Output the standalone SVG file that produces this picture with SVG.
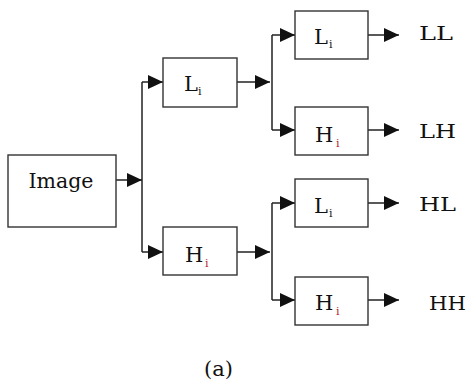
<svg xmlns="http://www.w3.org/2000/svg" width="470" height="384" viewBox="0 0 470 384">
<style>
.box{fill:#fff;stroke:#333;stroke-width:1.4}
.ln{fill:none;stroke:#222;stroke-width:1.5}
.t{font-family:"DejaVu Serif","Liberation Serif",serif;fill:#111}
.lbl{font-size:21px}
.out{font-size:19px}
.cap{font-size:21px}
.sub{font-size:11px}
.subr{font-size:11px;fill:#b02030}
</style>
<defs>
<marker id="ah" markerUnits="userSpaceOnUse" markerWidth="15" markerHeight="14" refX="15" refY="7" orient="auto">
<path d="M0,0 L15,7 L0,14 Z" fill="#111"/>
</marker>
</defs>
<rect width="470" height="384" fill="#fff"/>
<g id="connectors">
<line class="ln" x1="116" y1="180" x2="142" y2="180" marker-end="url(#ah)"/>
<line class="ln" x1="142" y1="82" x2="142" y2="252"/>
<line class="ln" x1="142" y1="82" x2="163" y2="82" marker-end="url(#ah)"/>
<line class="ln" x1="142" y1="252" x2="163" y2="252" marker-end="url(#ah)"/>
<line class="ln" x1="237" y1="82" x2="270" y2="82" marker-end="url(#ah)"/>
<line class="ln" x1="237" y1="252" x2="270" y2="252" marker-end="url(#ah)"/>
<line class="ln" x1="272" y1="35" x2="272" y2="130"/>
<line class="ln" x1="272" y1="203" x2="272" y2="300"/>
<line class="ln" x1="272" y1="35" x2="295" y2="35" marker-end="url(#ah)"/>
<line class="ln" x1="272" y1="130" x2="295" y2="130" marker-end="url(#ah)"/>
<line class="ln" x1="272" y1="203" x2="295" y2="203" marker-end="url(#ah)"/>
<line class="ln" x1="272" y1="300" x2="295" y2="300" marker-end="url(#ah)"/>
<line class="ln" x1="368" y1="35" x2="399" y2="35" marker-end="url(#ah)"/>
<line class="ln" x1="368" y1="130" x2="399" y2="130" marker-end="url(#ah)"/>
<line class="ln" x1="368" y1="203" x2="399" y2="203" marker-end="url(#ah)"/>
<line class="ln" x1="368" y1="300" x2="399" y2="300" marker-end="url(#ah)"/>
</g>
<g id="image">
<rect class="box" x="8" y="155" width="108" height="72"/>
<text class="t lbl" x="61" y="188" text-anchor="middle" textLength="65" lengthAdjust="spacingAndGlyphs">Image</text>
</g>
<g id="L1">
<rect class="box" x="163" y="58" width="74" height="49"/>
<text class="t lbl" x="184" y="91">L</text>
<text class="t sub" x="198" y="95">i</text>
</g>
<g id="H1">
<rect class="box" x="163" y="227" width="74" height="48"/>
<text class="t lbl" x="185" y="262">H</text>
<text class="t subr" x="205" y="267">i</text>
</g>
<g id="L2a">
<rect class="box" x="295" y="11" width="73" height="48"/>
<text class="t lbl" x="314" y="44">L</text>
<text class="t sub" x="329" y="48">i</text>
</g>
<g id="H2a">
<rect class="box" x="295" y="107" width="73" height="48"/>
<text class="t lbl" x="315" y="142">H</text>
<text class="t subr" x="336" y="147">i</text>
</g>
<g id="L2b">
<rect class="box" x="295" y="179" width="73" height="48"/>
<text class="t lbl" x="314" y="213">L</text>
<text class="t sub" x="329" y="217">i</text>
</g>
<g id="H2b">
<rect class="box" x="295" y="277" width="73" height="48"/>
<text class="t lbl" x="315" y="310">H</text>
<text class="t subr" x="336" y="315">i</text>
</g>
<g id="outputs">
<text class="t out" x="419" y="40" textLength="34" lengthAdjust="spacingAndGlyphs">LL</text>
<text class="t out" x="419" y="138" textLength="37" lengthAdjust="spacingAndGlyphs">LH</text>
<text class="t out" x="419" y="211" textLength="37" lengthAdjust="spacingAndGlyphs">HL</text>
<text class="t out" x="429" y="310" textLength="37" lengthAdjust="spacingAndGlyphs">HH</text>
</g>
<text class="t cap" x="204" y="376">(a)</text>
</svg>
